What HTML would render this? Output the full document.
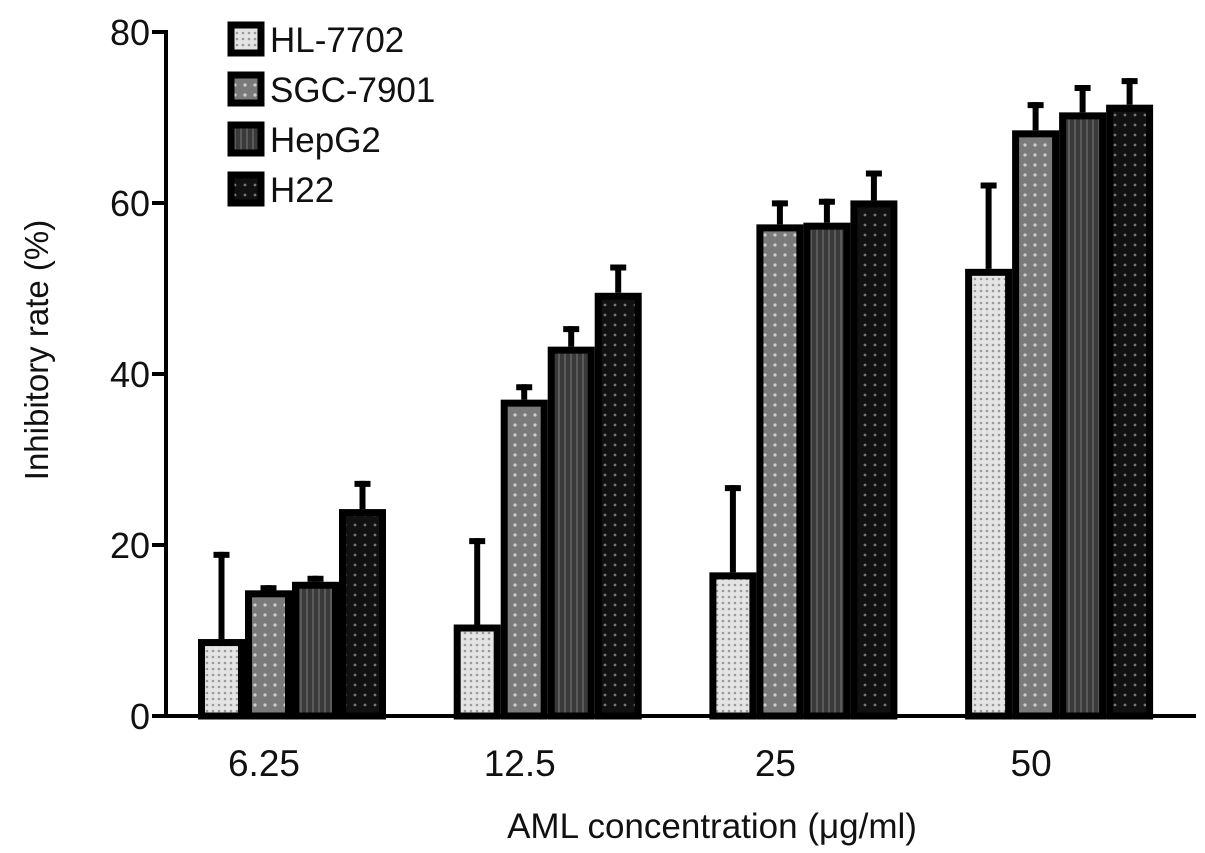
<!DOCTYPE html>
<html><head><meta charset="utf-8"><style>
body{margin:0;background:#fff}
svg{display:block;font-family:"Liberation Sans",Arial,sans-serif}
</style></head><body>
<svg id="chart" width="1205" height="853" viewBox="0 0 1205 853" xmlns="http://www.w3.org/2000/svg">
<defs>
<pattern id="p0" width="6" height="6" patternUnits="userSpaceOnUse"><rect width="6" height="6" fill="#e4e4e4"/><circle cx="3" cy="3" r="1.3" fill="#9a9a9a"/></pattern>
<pattern id="p1" width="10" height="10" patternUnits="userSpaceOnUse"><rect width="10" height="10" fill="#7a7a7a"/><circle cx="5" cy="5" r="1.6" fill="#cfcfcf"/></pattern>
<pattern id="p2" width="6" height="6" patternUnits="userSpaceOnUse"><rect width="6" height="6" fill="#3a3a3a"/><rect x="0" width="2" height="6" fill="#5a5a5a"/></pattern>
<pattern id="p3" width="10" height="10" patternUnits="userSpaceOnUse"><rect width="10" height="10" fill="#111"/><circle cx="5" cy="5" r="1.4" fill="#777"/></pattern>
</defs>
<g id="plot"></g>
</svg>
<script>
const categories=["6.25","12.5","25","50"];
const seriesNames=["HL-7702","SGC-7901","HepG2","H22"];
const hl7702=[9,10.7,16.8,52.3];
const sgc7901=[14.7,37,57.5,68.5];
const hepg2=[15.7,43.2,57.7,70.6];
const h22=[24.2,49.5,60.3,71.5];
const hl7702Err=[10.2,10.1,10.2,10.1];
const sgc7901Err=[0.6,1.8,2.8,3.3];
const hepg2Err=[0.7,2.4,2.8,3.2];
const h22Err=[3.3,3.3,3.5,3.1];
const yTicks=[0,20,40,60,80];

const NS="http://www.w3.org/2000/svg";
const g=document.getElementById('plot');
function y(v){return 716-(v/80)*684;}
function groupX(i){return 198+i*255.7;}
const BW=47;
function mk(tag,attrs,parent){const e=document.createElementNS(NS,tag);for(const k in attrs)e.setAttribute(k,attrs[k]);(parent||g).appendChild(e);return e;}
const series=[hl7702,sgc7901,hepg2,h22];
const errs=[hl7702Err,sgc7901Err,hepg2Err,h22Err];
categories.forEach((c,i)=>{
  series.forEach((s,j)=>{
    const x=groupX(i)+j*BW, top=y(s[i]);
    const eb=mk('line',{x1:x+BW/2,x2:x+BW/2,y1:top,y2:y(s[i]+errs[j][i]),stroke:'#000','stroke-width':6});
    
    
    const cap=mk('line',{x1:x+BW/2-8,x2:x+BW/2+8,y1:y(s[i]+errs[j][i])+3,y2:y(s[i]+errs[j][i])+3,stroke:'#000','stroke-width':6});
    
    
    const r=mk('rect',{x:x+3.5,y:top+3.5,width:BW-7,height:716-top-3.5,fill:'url(#p'+j+')',stroke:'#000','stroke-width':7});
    
    
  });
  const t=mk('text',{x:groupX(i)+66,y:776,'font-size':37,'text-anchor':'middle',fill:'#111'});
  t.textContent=c;
  
  
});
const ax=mk('path',{d:'M166,30 V716 H1196',stroke:'#000','stroke-width':4,fill:'none'});


yTicks.forEach(v=>{
  const tk=mk('line',{x1:152,x2:166,y1:y(v),y2:y(v),stroke:'#000','stroke-width':4});
  
  
  const t=mk('text',{x:150,y:y(v)+13,'font-size':36,'text-anchor':'end',fill:'#111'});
  t.textContent=v;
  
  
});
const yt=mk('text',{x:0,y:0,'font-size':33,'text-anchor':'middle',fill:'#111',transform:'translate(48,350) rotate(-90)'});
yt.textContent='Inhibitory rate (%)';


const xt=mk('text',{x:712,y:838,'font-size':35,'text-anchor':'middle',fill:'#111'});
xt.textContent='AML concentration (μg/ml)';


seriesNames.forEach((n,j)=>{
  const yy=22+j*50;
  const b=mk('rect',{x:231,y:yy+3,width:30,height:28,fill:'url(#p'+j+')',stroke:'#000','stroke-width':7});
  
  
  const t=mk('text',{x:270,y:yy+30,'font-size':35,fill:'#111'});
  t.textContent=n;
  
  
});
</script>
</body></html>
